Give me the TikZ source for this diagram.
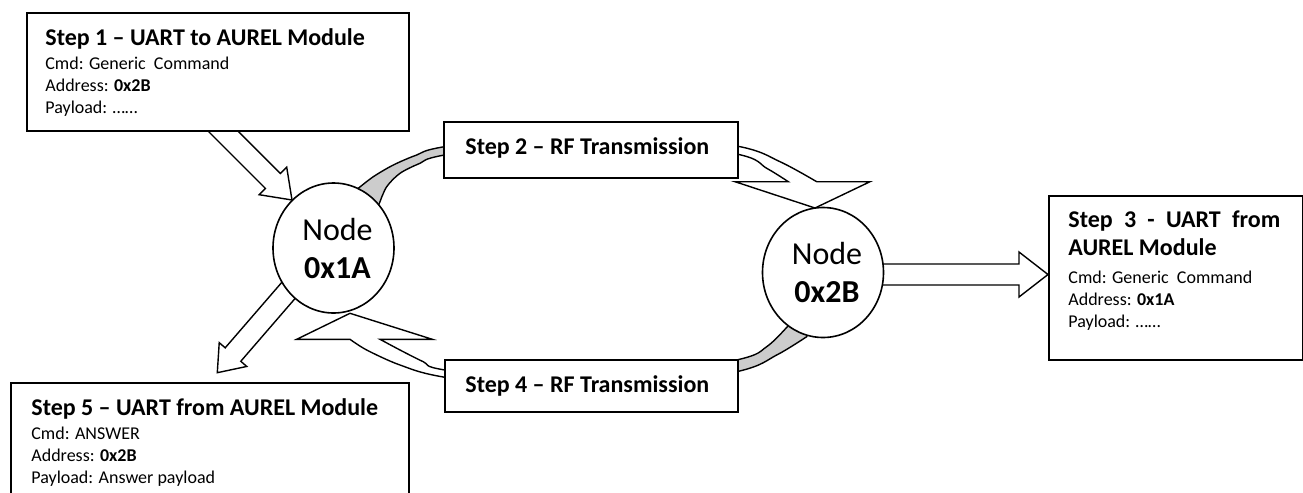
\documentclass[tikz,border=0pt]{standalone}
\usepackage{fontspec}
\setmainfont{Carlito}
\usetikzlibrary{calc,shapes.geometric}
\definecolor{ribgray}{RGB}{204,204,204}
\newcommand\titlefont{\fontsize{12}{14}\selectfont\bfseries}
\newcommand\bodyfont{\normalfont\fontsize{9}{11}\selectfont}
% #1 start, #2 tip, #3 shaft half width, #4 head half width, #5 head length
\newcommand\blkarrow[5]{%
  \coordinate (#1-#2-h) at ($(#2)!#5!(#1)$);
  \filldraw[blockarrow] ($(#1)!#3!90:(#2)$) -- ($(#1-#2-h)!#3!-90:(#1)$)
    -- ($(#1-#2-h)!#4!-90:(#1)$) -- (#2) -- ($(#1-#2-h)!#4!90:(#1)$)
    -- ($(#1-#2-h)!#3!90:(#1)$) -- ($(#1)!#3!-90:(#2)$) -- cycle;
}
\begin{document}
\begin{tikzpicture}[x=0.5pt, y=-0.5pt,
  box/.style={draw, line width=1pt, fill=white, inner sep=0pt, anchor=north west},
  nodecirc/.style={ellipse, draw, line width=0.8pt, fill=white, minimum width=60.5pt,
    minimum height=65pt, inner sep=0pt, align=center, font=\fontsize{16}{19}\selectfont},
  blockarrow/.style={draw, fill=white, line width=0.7pt, line join=miter},
  ribline/.style={draw, line width=0.7pt, line join=miter},
  boxtext/.style={anchor=base west, inner sep=0pt}]
\path[use as bounding box] (0,0) rectangle (1303,493);
\clip (0,0) rectangle (1303,493);
\fill[white] (0,0) rectangle (1303,493);

% curved ribbon arrows
\path[save path=\toprib] (345,210) -- (355,196) -- plot[smooth] coordinates {(358.3,188.3) (373.3,176.7) (393.3,165) (416.7,155) (444.3,146.7) (590,125) (736.7,146) (780,161.7) (816.7,181.7)}
  -- (870,181.7) -- (815,208) -- (735,181.7)
  -- plot[smooth] coordinates {(788.3,181.7) (766.7,168.3) (736.7,154) (590,131) (444.3,155) (420,163.3) (400,173.3) (386.7,186.7) (380,201.7)}
  -- (376,211) -- cycle;
\path[save path=\botrib] (800,312) -- (792,318) -- plot[smooth] coordinates {(787.3,326.7) (766.7,346.7) (736.7,360) (590,388) (445,370) (423.3,361.7) (400,350) (380,339.3)}
  -- (432.3,339.3) -- (350,313.3) -- (296.7,339.3)
  -- plot[smooth] coordinates {(350,339.3) (366.7,350) (400,365) (445,377.3) (590,397) (736.7,371.7) (776.7,355) (806.7,336.7)}
  -- (810,328) -- cycle;
\fill[white, use path=\toprib];
\fill[white, use path=\botrib];
\begin{scope}
  \clip (0,0) rectangle (590,493);
  \fill[ribgray, use path=\toprib];
\end{scope}
\begin{scope}
  \clip (590,0) rectangle (1303,493);
  \fill[ribgray, use path=\botrib];
\end{scope}
\draw[ribline, use path=\toprib];
\draw[ribline, use path=\botrib];

% straight block arrows
\coordinate (a1s) at (214,122);
\coordinate (a1t) at (292,200);
\coordinate (a5s) at (295.8,281.9);
\coordinate (a5t) at (217.3,372.7);
\coordinate (a3s) at (870,274.5);
\coordinate (a3t) at (1048,274.5);
\blkarrow{a1s}{a1t}{5.3pt}{9.75pt}{13.5pt}
\blkarrow{a5s}{a5t}{5.15pt}{9.1pt}{12pt}
\blkarrow{a3s}{a3t}{5.25pt}{11.25pt}{14.5pt}

% boxes
\node[box, minimum width=191pt, minimum height=59pt] (b1) at (26,12) {};
\node[box, minimum width=147pt, minimum height=28pt] (b2) at (443,121) {};
\node[box, minimum width=126.75pt, minimum height=82pt] (b3) at (1048,195) {};
\node[box, minimum width=146.5pt, minimum height=26pt] (b4) at (444,359) {};
\node[box, minimum width=199pt, minimum height=70pt] (b5) at (10,382) {};

% texts
\node[boxtext] (t1) at (45,45) {\parbox[t]{185pt}{\titlefont Step 1 -- UART to AUREL Module\par\vspace{1pt}\bodyfont Cmd: Generic\ \ Command\par Address: \textbf{0x2B}\par Payload: ……}};
\node[boxtext] (t2) at (465,154) {\titlefont Step 2 -- RF Transmission};
\node[boxtext] (t3) at (1068,227) {\parbox[t]{106pt}{\titlefont\makebox[\linewidth][s]{Step 3 - UART from}\par AUREL Module\par\vspace{3pt}\bodyfont Cmd: Generic\ \ Command\par Address: \textbf{0x1A}\par Payload: ……}};
\node[boxtext] (t4) at (465,392.5) {\titlefont Step 4 -- RF Transmission};
\node[boxtext] (t5) at (31,415) {\parbox[t]{190pt}{\titlefont Step 5 -- UART from AUREL Module\par\vspace{1pt}\bodyfont Cmd: ANSWER\par Address: \textbf{0x2B}\par Payload: Answer payload}};

% circles
\node[nodecirc] (n1) at (333.5,248) {\hspace*{4pt}Node\\\hspace*{4pt}\textbf{0x1A}};
\node[nodecirc] (n2) at (823,272.5) {\hspace*{4pt}Node\\\hspace*{4pt}\textbf{0x2B}};
\end{tikzpicture}
\end{document}
